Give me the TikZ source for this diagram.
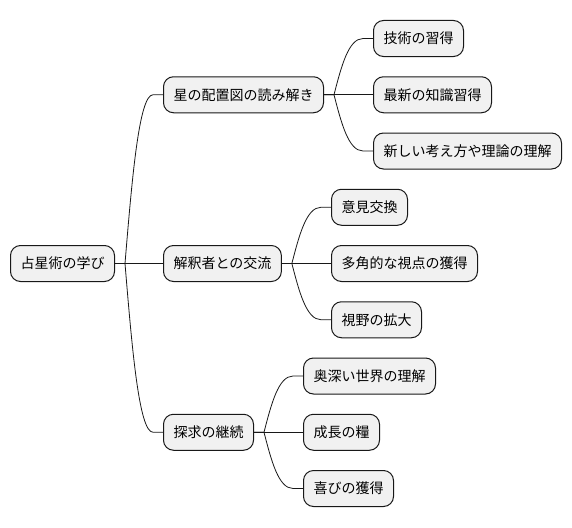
\documentclass[tikz,border=0pt]{standalone}
\usepackage{fontspec}
\newfontfamily\cjk{Noto Sans CJK JP}
\usetikzlibrary{calc}
\definecolor{ideafill}{HTML}{F1F1F1}
\definecolor{idealine}{HTML}{181818}
\tikzset{
  idea/.style={draw=idealine, fill=ideafill, line width=1pt, rounded corners=10pt,
    minimum height=36pt, inner xsep=10pt, inner ysep=0pt, anchor=west,
    font=\cjk\fontsize{14}{16}\selectfont},
  branch/.style={draw=idealine, line width=0.8pt}
}
\begin{document}
\begin{tikzpicture}[x=1pt,y=-1pt]
  \useasboundingbox (0,0) rectangle (572,527);
  % centre
  \node[idea] (root) at (10,263.5) {占星術の学び};
  % first level
  \node[idea] (chart) at (163,94.75) {星の配置図の読み解き};
  \node[idea] (talk) at (163,263.5) {解釈者との交流};
  \node[idea] (quest) at (163,432.25) {探求の継続};
  % second level
  \node[idea] (skill) at (373,38.5) {技術の習得};
  \node[idea] (news) at (373,94.75) {最新の知識習得};
  \node[idea] (theory) at (373,151) {新しい考え方や理論の理解};
  \node[idea] (swap) at (331,207.25) {意見交換};
  \node[idea] (views) at (331,263.5) {多角的な視点の獲得};
  \node[idea] (wide) at (331,319.75) {視野の拡大};
  \node[idea] (deep) at (303,376) {奥深い世界の理解};
  \node[idea] (grow) at (303,432.25) {成長の糧};
  \node[idea] (joy) at (303,488.5) {喜びの獲得};
  % branches
  \foreach \src/\dst in {root/chart,root/talk,root/quest,chart/skill,chart/news,chart/theory,
      talk/swap,talk/views,talk/wide,quest/deep,quest/grow,quest/joy}
    \draw[branch] let \p1=(\src.east), \p2=(\dst.west) in
      (\p1) -- ++(10,0)
      .. controls (\x1+10pt+0.25*\x2-0.25*\x1-5pt, 0.5*\y1+0.5*\y2)
              and (\x1+10pt+0.5*\x2-0.5*\x1-10pt, \y2) ..
      (\x2-10pt,\y2) -- (\p2);
\end{tikzpicture}
\end{document}
